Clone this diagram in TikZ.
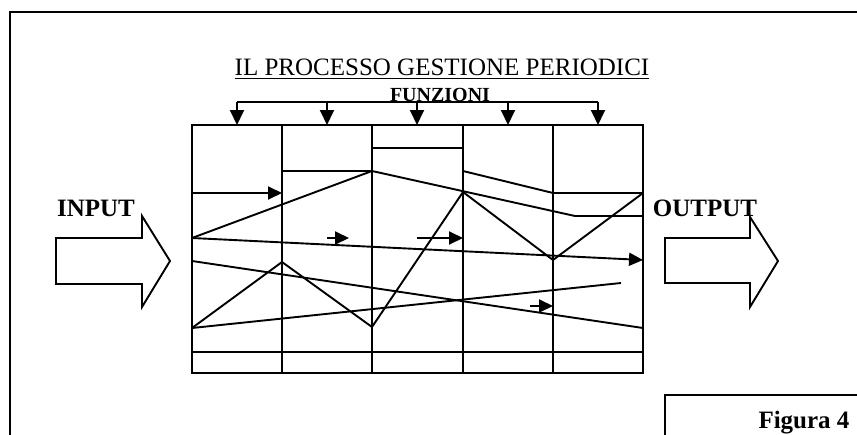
\documentclass[tikz,border=0pt]{standalone}
\usepackage{fontspec}
\setmainfont{Liberation Serif}
\usetikzlibrary{arrows.meta}

\begin{document}
\begin{tikzpicture}[x=0.5pt, y=-0.5pt, line width=0.95pt,
  every node/.style={inner sep=0pt, anchor=base},
  bigbold/.style={font=\fontsize{12.5}{15}\selectfont\bfseries},
  fnarrow/.style={-{Triangle[length=7.5pt,width=7pt]}},
  flowarrow/.style={-{Triangle[length=7pt,width=6.5pt]}}]
\useasboundingbox (0,0) rectangle (857,434);
% page frame
\draw[line width=1.1pt] (10,445) -- (10,12) -- (870,12);
% title
\node[font=\fontsize{12.5}{15}\selectfont] (title) at (442,75) {\underline{IL PROCESSO GESTIONE PERIODICI}};
\node[font=\fontsize{10}{12}\selectfont\bfseries] (funz) at (440,101) {FUNZIONI};
% arrows to the functions
\draw (237,102) -- (598,102);
\foreach \x in {237,327,417,508,598}
  \draw[fnarrow] (\x,102) -- (\x,125);
% big rectangle
\draw (192,125) rectangle (643,373);
% divides into 5 columns
\foreach \x in {282,372,463,553}
  \draw (\x,125) -- (\x,373);
\draw (192,352) -- (643,352);
% steps
\draw (282,171) -- (372,171);
\draw (372,148) -- (463,148);
\draw[flowarrow] (192,193) -- (282,193);
\draw (192,238) -- (372,171) -- (575,216) -- (643,216);
\draw (463,171) -- (553,193) -- (643,193);
\draw (192,328) -- (282,262) -- (372,327) -- (463,192) -- (553,260) -- (643,193);
\draw[flowarrow] (192,238) -- (643,260);
\draw (192,261) -- (643,328);
\draw (192,328) -- (621,283);
\draw[flowarrow] (327,238) -- (349,238);
\draw[flowarrow] (417,238) -- (463,238);
\draw[flowarrow] (530,306) -- (553,306);
% input
\draw (56,238) -- (142,238) -- (142,216) -- (170,261) -- (142,307) -- (142,284) -- (56,284) -- cycle;
\node[bigbold] (input) at (96,216) {INPUT};
% output
\draw (665,238) -- (750,238) -- (750,217) -- (778,261) -- (750,307) -- (750,283) -- (665,283) -- cycle;
\node[bigbold] (output) at (705,216) {OUTPUT};
% caption
\draw (665,445) -- (665,395) -- (870,395);
\node[bigbold] (fig) at (804,428) {Figura 4};
\end{tikzpicture}
\end{document}
